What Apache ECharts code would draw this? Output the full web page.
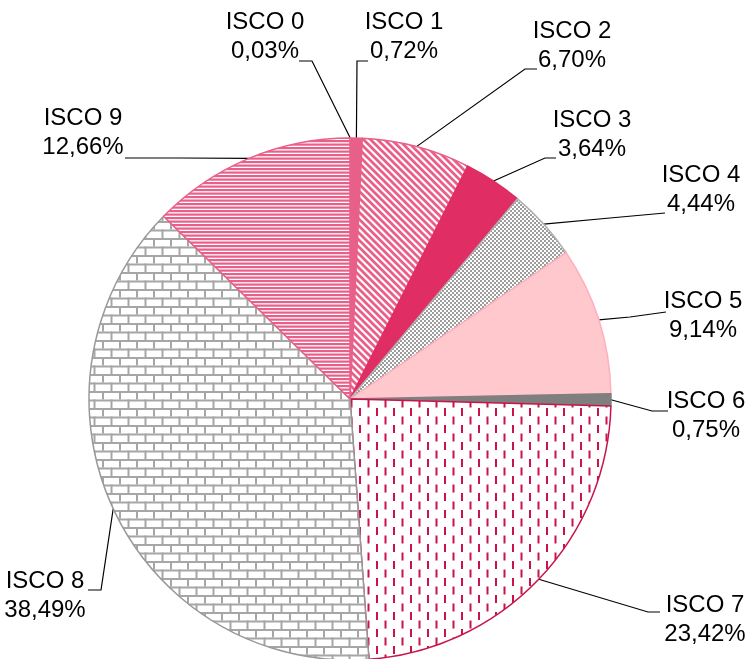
<!DOCTYPE html>
<html>
<head>
<meta charset="utf-8">
<script src="https://cdn.jsdelivr.net/npm/echarts@6/dist/echarts.min.js"></script>
<style>
    html, body {margin: 0; padding: 0; background: #fff;}
    #chart {width: 749px; height: 659px;}
</style>
</head>
<body>
<div id="chart"></div>
<script>
// ISCO groups and their share (%)
const categories = ['ISCO 0', 'ISCO 1', 'ISCO 2', 'ISCO 3', 'ISCO 4', 'ISCO 5', 'ISCO 6', 'ISCO 7', 'ISCO 8', 'ISCO 9'];
const shares = [0.03, 0.72, 6.70, 3.64, 4.44, 9.14, 0.75, 23.42, 38.49, 12.66];

// where each label block sits (centre) and the bends of its leader line
const labelAnchors = [[265, 37], [404, 37], [572, 46], [592, 135], [701, 190], [703, 316], [706, 416], [705, 620], [45, 596], [83, 133]];
const leaderBends = [
    [[312, 61], [299, 61]],
    [[357, 61], [368, 61]],
    [[525, 69], [537, 69]],
    [[545, 158], [556, 158]],
    [[610, 218], [665, 213]],
    [[630, 317], [666, 312]],
    [[652, 411], [668, 411]],
    [[648, 612], [660, 612]],
    [[101, 590], [88, 590]],
    [[180, 158], [125, 158]]
];

const pink = '#e8608a';
const darkPink = '#e02d64';
const crimson = '#c8144b';

function makeTile(w, h, draw) {
    const c = document.createElement('canvas');
    c.width = w;
    c.height = h;
    const ctx = c.getContext('2d');
    ctx.fillStyle = '#fff';
    ctx.fillRect(0, 0, w, h);
    draw(ctx);
    return {image: c, repeat: 'repeat'};
}

const diagStripes = makeTile(7, 7, ctx => {
    ctx.strokeStyle = pink;
    ctx.lineWidth = 2.7;
    for (let k = -1; k <= 1; k++) {
        ctx.beginPath();
        ctx.moveTo(k * 7 - 1, -1);
        ctx.lineTo(k * 7 + 8, 8);
        ctx.stroke();
    }
});

const checker = makeTile(4, 4, ctx => {
    ctx.fillStyle = '#9c9c9c';
    ctx.fillRect(0, 0, 2, 2);
    ctx.fillRect(2, 2, 2, 2);
});

const dashes = makeTile(17, 17, ctx => {
    ctx.fillStyle = crimson;
    ctx.fillRect(2, 0, 2, 8);
    ctx.fillRect(10.5, 8.5, 2, 8);
});

const bricks = makeTile(17, 17, ctx => {
    ctx.fillStyle = '#a6a6a6';
    ctx.fillRect(0, 0, 17, 2);
    ctx.fillRect(0, 0, 2, 8.5);
    ctx.fillRect(0, 8.5, 17, 2);
    ctx.fillRect(8.5, 8.5, 2, 8.5);
});

const hStripes = makeTile(7, 7, ctx => {
    ctx.fillStyle = pink;
    ctx.fillRect(0, 0, 7, 2.2);
    ctx.fillRect(0, 3.5, 7, 2.2);
});

const sliceStyles = [
    {color: pink, borderColor: pink},
    {color: pink, borderColor: pink},
    {color: diagStripes, borderColor: pink},
    {color: darkPink, borderColor: darkPink},
    {color: checker, borderColor: '#b0b0b0'},
    {color: '#ffc8cd', borderColor: '#ffb0bc'},
    {color: '#7f7f7f', borderColor: '#7f7f7f'},
    {color: dashes, borderColor: crimson},
    {color: bricks, borderColor: '#999'},
    {color: hStripes, borderColor: pink}
];

function fmt(v) {
    return v.toFixed(2).replace('.', ',') + '%';
}

const chart = echarts.init(document.getElementById('chart'), null, {renderer: 'canvas'});

const option = {
    animation: false,
    backgroundColor: '#fff',
    series: [{
        type: 'pie',
        center: [350, 399],
        radius: 261,
        startAngle: 90,
        clockwise: true,
        avoidLabelOverlap: false,
        minShowLabelAngle: 0,
        data: categories.map((name, i) => ({
            name: name,
            value: shares[i],
            itemStyle: Object.assign({borderWidth: 1.5}, sliceStyles[i])
        })),
        label: {
            show: true,
            position: 'outside',
            formatter: p => p.name + '\n' + fmt(p.value),
            fontFamily: '"Liberation Sans Narrow", "Arial Narrow", "Liberation Sans", Arial, sans-serif',
            fontSize: 24,
            lineHeight: 29,
            color: '#000',
            width: 100,
            overflow: 'none',
            align: 'center'
        },
        labelLine: {
            show: true,
            length: 10,
            length2: 10,
            lineStyle: {color: '#000', width: 1.2}
        },
        labelLayout: params => {
            const i = params.dataIndex;
            const edge = params.labelLinePoints ? params.labelLinePoints[0] : leaderBends[i][0];
            return {
                x: labelAnchors[i][0],
                y: labelAnchors[i][1],
                align: 'center',
                verticalAlign: 'middle',
                labelLinePoints: [edge, leaderBends[i][0], leaderBends[i][1]]
            };
        },
        emphasis: {disabled: true}
    }]
};

chart.setOption(option);
</script>
</body>
</html>
